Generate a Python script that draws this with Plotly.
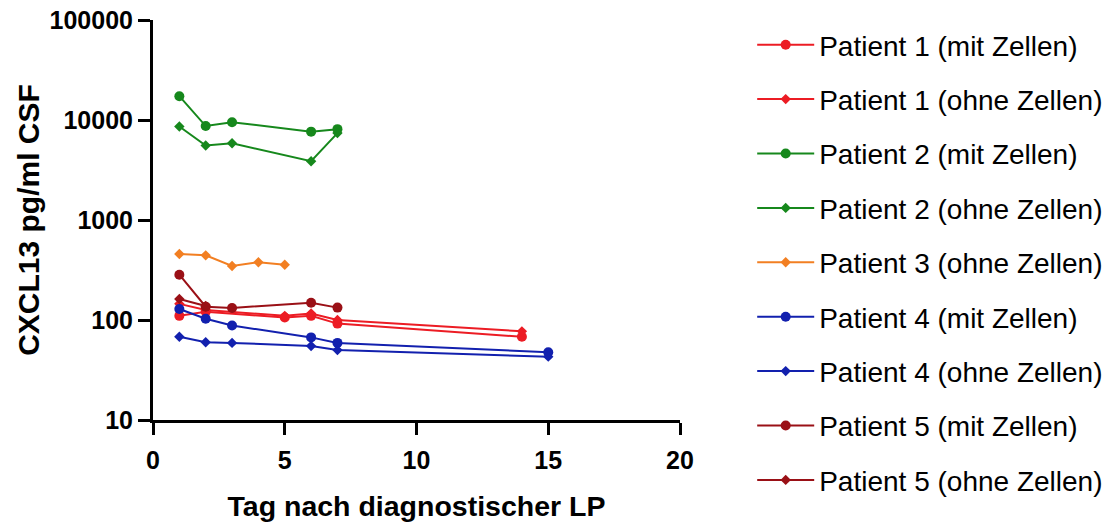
import plotly.graph_objects as go

# Tage nach diagnostischer LP und CXCL13-Werte (pg/ml CSF)
p1_mit_x = [1, 2, 5, 6, 7, 14]
p1_mit_y = [110, 121, 106, 110, 92, 68]
p1_ohne_x = [1, 2, 5, 6, 7, 14]
p1_ohne_y = [145, 126, 110, 116, 100, 77]
p2_mit_x = [1, 2, 3, 6, 7]
p2_mit_y = [17300, 8700, 9500, 7650, 8100]
p2_ohne_x = [1, 2, 3, 6, 7]
p2_ohne_y = [8600, 5550, 5850, 3870, 7400]
p3_ohne_x = [1, 2, 3, 4, 5]
p3_ohne_y = [457, 443, 347, 378, 357]
p4_mit_x = [1, 2, 3, 6, 7, 15]
p4_mit_y = [129, 103, 88, 67, 59, 47.5]
p4_ohne_x = [1, 2, 3, 6, 7, 15]
p4_ohne_y = [68, 60, 59, 55, 50, 43]
p5_mit_x = [1, 2, 3, 6, 7]
p5_mit_y = [284, 136, 132, 149, 133]
p5_ohne_x = [1, 2]
p5_ohne_y = [162, 138]

y_ticks = [10, 100, 1000, 10000, 100000]
x_ticks = [0, 5, 10, 15, 20]

RED = "#ec1c24"
GREEN = "#16881c"
ORANGE = "#f27f22"
BLUE = "#1220ae"
DARKRED = "#9a1016"

series = [
    ("Patient 1 (mit Zellen)", p1_mit_x, p1_mit_y, RED, "circle"),
    ("Patient 1 (ohne Zellen)", p1_ohne_x, p1_ohne_y, RED, "diamond"),
    ("Patient 2 (mit Zellen)", p2_mit_x, p2_mit_y, GREEN, "circle"),
    ("Patient 2 (ohne Zellen)", p2_ohne_x, p2_ohne_y, GREEN, "diamond"),
    ("Patient 3 (ohne Zellen)", p3_ohne_x, p3_ohne_y, ORANGE, "diamond"),
    ("Patient 4 (mit Zellen)", p4_mit_x, p4_mit_y, BLUE, "circle"),
    ("Patient 4 (ohne Zellen)", p4_ohne_x, p4_ohne_y, BLUE, "diamond"),
    ("Patient 5 (mit Zellen)", p5_mit_x, p5_mit_y, DARKRED, "circle"),
    ("Patient 5 (ohne Zellen)", p5_ohne_x, p5_ohne_y, DARKRED, "diamond"),
]

fig = go.Figure()
for i, (name, xs, ys, color, sym) in enumerate(series):
    fig.add_trace(go.Scatter(
        x=xs, y=ys, name=name, mode="lines+markers",
        line=dict(color=color, width=2),
        marker=dict(symbol=sym, color=color, size=10 if sym == "circle" else 8),
        legendgroup=f"g{i}",
        cliponaxis=False,
    ))

FONT = "Liberation Sans, Arial, sans-serif"
tick_font = dict(family=FONT, size=25, color="black")
fig.update_layout(
    width=1113, height=529,
    margin=dict(l=153, r=433, t=20, b=109, autoexpand=False),
    paper_bgcolor="white", plot_bgcolor="white",
    font=dict(family=FONT, color="black"),
    legend=dict(
        x=1.137, xanchor="left", y=1.0, yanchor="top",
        font=dict(size=28, color="black"),
        tracegroupgap=15,
        itemwidth=57,
        maxheight=529,
        bgcolor="rgba(0,0,0,0)",
    ),
    xaxis=dict(
        range=[0, 20], tickvals=x_ticks, ticktext=[f"<b>{v}</b>" for v in x_ticks],
        showline=True, linecolor="black", linewidth=3,
        ticks="outside", ticklen=12, tickwidth=2.5, tickcolor="black",
        ticklabelstandoff=4,
        showgrid=False, zeroline=False, tickfont=tick_font,
        title=dict(text="<b>Tag nach diagnostischer LP</b>",
                   font=dict(family=FONT, size=28.5, color="black"), standoff=24),
    ),
    yaxis=dict(
        type="log", range=[1, 5], tickvals=y_ticks,
        ticktext=[f"<b>{v}</b>" for v in y_ticks],
        showline=True, linecolor="black", linewidth=3,
        ticks="outside", ticklen=12, tickwidth=2.5, tickcolor="black",
        showgrid=False, zeroline=False, tickfont=tick_font,
        title=dict(text="<b>CXCL13 pg/ml CSF</b>",
                   font=dict(family=FONT, size=30, color="black"), standoff=2),
    ),
)

fig.write_html("out.html")
